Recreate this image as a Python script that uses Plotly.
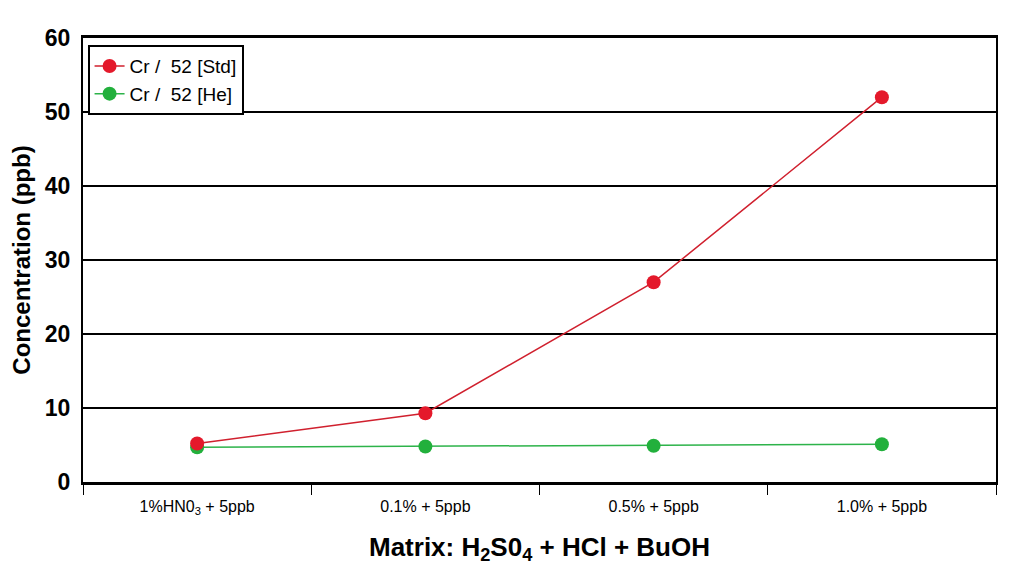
import plotly.graph_objects as go

# categories on the x axis (matrix composition)
categories = ["1%HN0<sub>3</sub> + 5ppb", "0.1% + 5ppb", "0.5% + 5ppb", "1.0% + 5ppb"]

# Cr / 52 concentration (ppb)
cr_std = [5.2, 9.3, 27.0, 52.0]
cr_he = [4.7, 4.8, 4.9, 5.1]

FONT = "Liberation Sans Narrow, Arial Narrow, Liberation Sans, Arial, sans-serif"

fig = go.Figure()

fig.add_trace(go.Scatter(
    x=categories, y=cr_he, mode="lines+markers", name="Cr /  52 [He]",
    line=dict(color="#2db34a", width=1.5),
    marker=dict(color="#22b03c", size=14),
))
fig.add_trace(go.Scatter(
    x=categories, y=cr_std, mode="lines+markers", name="Cr /  52 [Std]",
    line=dict(color="#d0202e", width=1.5),
    marker=dict(color="#e4192b", size=14),
))

# the page body adds ~8px, so margins are set a bit smaller on the left/top
fig.update_layout(
    width=1026, height=581,
    margin=dict(l=71, r=38, t=30, b=107),
    paper_bgcolor="white", plot_bgcolor="white",
    font=dict(family=FONT, color="black"),
    showlegend=True,
    legend=dict(
        x=0.005, y=0.984, xanchor="left", yanchor="top",
        traceorder="reversed",
        bgcolor="white", bordercolor="black", borderwidth=2,
        font=dict(size=19, family=FONT),
        tracegroupgap=0,
    ),
    xaxis=dict(
        type="category",
        range=[-0.5, 3.5],
        tickson="boundaries",
        ticks="outside", ticklen=10, tickwidth=1.2, tickcolor="black",
        ticklabelstandoff=8,
        showline=True, linecolor="black", linewidth=2.5, mirror=True,
        showgrid=False,
        tickfont=dict(size=16, family=FONT),
        title=dict(
            text="<b>Matrix: H<sub>2</sub>S0<sub>4</sub> + HCl + BuOH</b>",
            font=dict(size=26, family=FONT), standoff=22,
        ),
    ),
    yaxis=dict(
        range=[0, 60], dtick=10,
        showline=True, linecolor="black", linewidth=2, mirror=True,
        showgrid=True, gridcolor="black", gridwidth=1.5,
        zeroline=False,
        ticks="", ticklabelstandoff=6,
        tickfont=dict(size=23, family=FONT, weight="bold"),
        title=dict(
            text="<b>Concentration (ppb)</b>",
            font=dict(size=24, family=FONT), standoff=8,
        ),
    ),
)

fig.write_html("out.html")
